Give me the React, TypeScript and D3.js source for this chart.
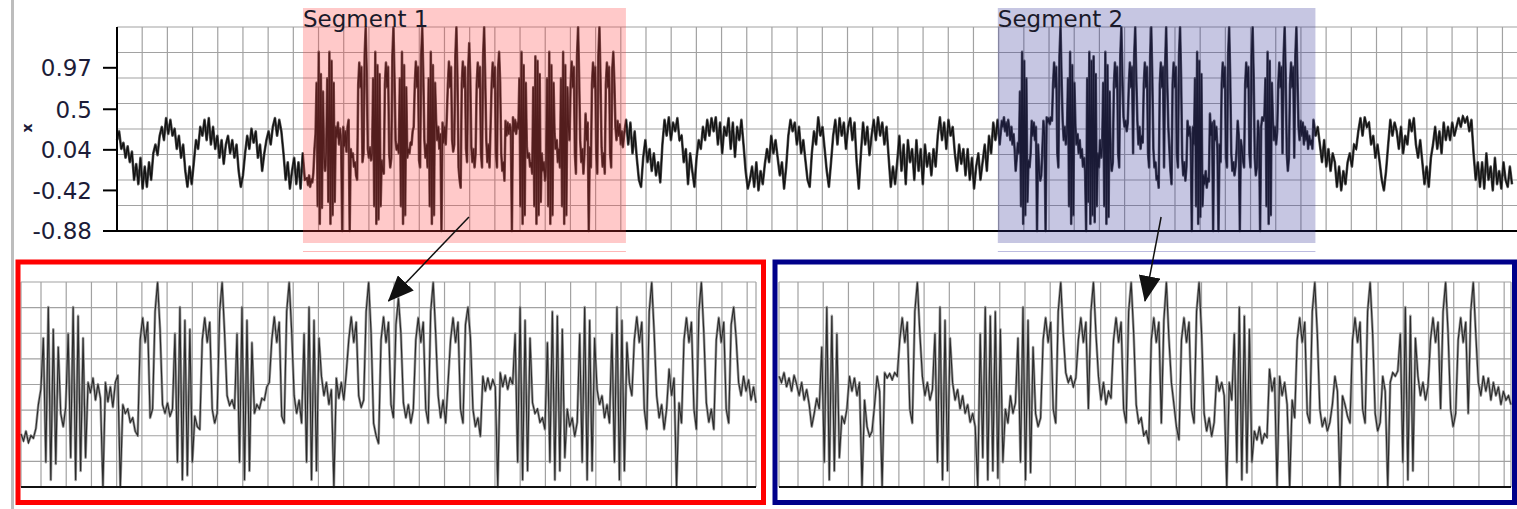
import React from 'react';
import * as d3 from 'd3';

const W = 1517;
const H = 509;

// value axis of the overview trace
const yDomain = [-0.88, 1.4325];
const yTickValues = [-0.88, -0.42, 0.04, 0.5, 0.97];
const yTickLabels = ['-0.88', '-0.42', '0.04', '0.5', '0.97'];
const segmentNames = ['Segment 1', 'Segment 2'];

// sample step (time units) of the decimated background and of the segments
const BG_STEP = 2;
const SEG_STEP = 1;

// overview trace before segment 1
const backgroundA = [
  0.15, 0.25, 0.05, 0.12, -0.05, 0.08, -0.1, 0.02, -0.3, -0.12, -0.35,
  -0.05, -0.4, -0.15, -0.38, -0.1, -0.3, 0.0, 0.1, -0.02, 0.2,
  0.3, 0.15, 0.4, 0.22, 0.38, 0.2, 0.28, 0.05, 0.2, -0.05, 0.1,
  -0.2, -0.38, -0.15, -0.35, -0.1, 0.15, 0.05, 0.3, 0.2,
  0.38, 0.15, 0.4, 0.1, 0.3, 0.05, 0.2, -0.05, 0.15, -0.12, 0.1,
  0.2, 0.0, 0.15, -0.05, 0.1, -0.2, -0.38, -0.25,
  0.0, 0.2, 0.05, 0.28, 0.12, 0.25, -0.05, 0.1, -0.2, 0.0, 0.15, 0.25, 0.1,
  0.3, 0.4, 0.2, 0.38, 0.25, 0.0, -0.3, -0.1, -0.4, -0.2,
  -0.05, -0.35, -0.1, -0.4, 0.0, -0.3,
];

// segment 1 (shown enlarged in the red panel)
const segment1 = [
  -0.28, -0.36, -0.25, -0.38, -0.3, -0.33, -0.22, 0.05, 0.22,
  0.8, -0.6, 1.15, -0.8, 0.9, -0.62, 0.7,
  -0.05, -0.2, 0.02,
  0.85, -0.55, 1.15, -0.8, 1.05, -0.7, 0.8,
  -0.55, 0.3, 0.18, 0.35, 0.1, 0.28, 0.12, -0.88,
  0.3, 0.08, 0.25, 0.02, 0.3, 0.38, -0.88,
  0.05, -0.05, 0.0, -0.15, -0.1, -0.25, -0.3,
  0.78, 1.03, 0.75, 0.98, -0.1, 0.0, 1.1, 1.43, 0.9,
  0.05, -0.05, 0.07, -0.08, 0.0,
  0.85, -0.6, 1.15, -0.8, 1.0, -0.75, 0.9, -0.6,
  -0.08, -0.2, -0.23,
  0.78, 1.03, 0.75, 0.98, 0.0, -0.16, -0.05, 1.1, 1.43, 0.85,
  0.15, 0.04, 0.1, 0.0,
  0.85, -0.6, 1.15, -0.8, 1.0, -0.7, 0.75,
  -0.05, 0.05, 0.0, 0.12, 0.1, 0.25, 0.3,
  0.78, 1.04, 0.75, 0.98, -0.08, -0.16, 1.1, 1.43, 0.88,
  0.15, -0.05, 0.1, -0.16,
  0.85, -0.6, 1.15, -0.8, 1.0, -0.7, 0.8,
  0.37, 0.15, 0.3, 0.05, 0.22, -0.88,
  0.35, 0.12, 0.3, 0.1, 0.41,
  0.78, 1.04, 0.75, 0.98, 0.15, 0.02, 0.1, 1.1, 1.43, 0.85,
  -0.16, -0.3, -0.39,
  0.78, 1.04, 0.75, 0.98, 0.05, -0.1, 0.95, 1.25, 0.85,
  0.07, -0.1, 0.05, -0.16, 0.0,
  0.78, 1.03, 0.75, 0.98, 0.0, -0.16, 1.1, 1.43, 0.85,
  0.15, -0.1, 0.1, -0.16, 0.3,
  0.78, 1.03, 0.75, 0.98, 0.0, -0.16, 0.95, 1.15, 0.8,
  0.0, -0.2, -0.1, -0.31,
  0.37, 0.2, 0.35, 0.22, 0.33, 0.25, -0.88,
  0.41, 0.25, 0.38, 0.22, 0.35, 0.28,
  0.85, -0.6, 1.15, -0.8, 1.0, -0.7, 0.8,
  0.07, -0.05, 0.0, -0.15, -0.1, -0.23,
  0.75, -0.6, 1.1, -0.8, 1.05, -0.7, 0.9, -0.55,
  0.0, -0.2, -0.1, -0.31, -0.15,
  0.85, -0.6, 1.15, -0.8, 1.0, -0.7, 0.8,
  0.22, 0.05, 0.15, -0.1, 0.05, -0.16,
  0.85, -0.6, 1.15, -0.8, 1.0, -0.7, 0.75,
  0.3, 0.15,
  0.78, 1.04, 0.75, 0.98, 0.0, -0.23, 1.1, 1.43, 0.85,
  0.15, -0.1, 0.05, -0.23, 0.0, 0.45, 0.15, 0.35, -0.88, 0.07, -0.16,
  0.78, 1.03, 0.75, 0.98, 0.0, -0.23, 1.1, 1.43, 0.85,
  0.07, -0.15, 0.0, -0.23,
  0.78, 1.03, 0.75, 0.98, 0.0, -0.16, 0.95, 1.15, 0.8,
  0.3, 0.15, 0.37, 0.2, 0.33, 0.1, 0.25, 0.07,
];

// overview trace between the two segments
const backgroundB = [
  0.2, 0.38, 0.1, 0.35, 0.0, 0.25, -0.05, -0.3, -0.38,
  -0.05, 0.15, -0.1, 0.05, -0.2, 0.0, -0.25, -0.1, -0.33,
  0.1, 0.38, 0.2, 0.41, 0.15, 0.35, 0.25, 0.4, 0.15,
  0.2, -0.1, 0.05, -0.35, 0.0, -0.2, -0.38,
  -0.05, 0.15, 0.05, 0.3, 0.15, 0.38, 0.2, 0.4, 0.25,
  0.41, 0.1, 0.35, 0.0, 0.3, 0.2, 0.4, 0.05, 0.35, -0.04, 0.3, 0.15, 0.38, 0.1,
  -0.2, -0.4, -0.3, -0.15, -0.38, -0.1, -0.42, -0.2, -0.35, -0.12,
  0.05, -0.1, 0.2, 0.0, 0.15, -0.05, -0.25, -0.1, -0.4, -0.15,
  0.2, 0.38, 0.25, 0.35, 0.1, 0.3, 0.0, 0.15, -0.08, -0.3, -0.38,
  0.0, 0.25, 0.1, 0.41, 0.2, 0.3, 0.05, -0.2, -0.38, -0.1,
  0.2, 0.38, 0.1, 0.4, 0.2, 0.35, 0.05, 0.3, 0.4, 0.15, 0.35, -0.1, -0.4,
  0.0, 0.35, 0.1, 0.3, -0.02, 0.2, 0.38, 0.15, 0.41, 0.2, 0.35, 0.1, 0.3,
  -0.05, -0.38, -0.15, -0.35, -0.1,
  0.2, -0.2, 0.1, -0.35, 0.15, -0.1, 0.05, -0.3,
  0.15, -0.2, 0.05, -0.35, 0.1, -0.15, 0.0, -0.25, 0.05, -0.15,
  0.2, 0.41, 0.15, 0.35, 0.05, 0.38, 0.2, 0.3,
  0.0, -0.2, 0.1, -0.12, 0.05, -0.25, 0.05, -0.3, -0.05, -0.4, -0.15, 0.0, -0.3,
  -0.1, 0.1, -0.2, 0.2, 0.0, 0.35, 0.15, 0.38, 0.1,
];

// segment 2 (shown enlarged in the blue panel)
const segment2 = [
  0.37, 0.3, 0.41, 0.25, 0.35, 0.2, 0.38, 0.28, 0.15, 0.3, 0.1, 0.22, 0.05, -0.2, -0.05, 0.12, 0.0,
  0.7, -0.6, 1.15, -0.8, 1.05, -0.7, 0.85, -0.55,
  -0.08, -0.16, 0.0, 0.37, 0.2, 0.35, 0.15, 0.3, -0.88,
  0.1, -0.2, -0.31, -0.25, 0.05, 0.37, 0.2, -0.88,
  0.41, 0.35, 0.4, 0.33, 0.41, 0.37,
  0.78, 1.03, 0.75, 0.98, 0.0, -0.16, 1.1, 1.43, 0.85,
  0.37, 0.15, 0.3, 0.1, 0.22,
  0.85, -0.6, 1.15, -0.8, 1.0, -0.7, 0.8,
  0.3, 0.1, 0.22, 0.0, 0.15, -0.05, 0.05, -0.15, -0.05, -0.2, -0.88,
  0.85, -0.55, 1.15, -0.8, 1.05, -0.7, 1.1, -0.78, 0.9, -0.6,
  0.0, -0.16, 0.15, -0.05, 0.07,
  0.8, -0.6, 1.15, -0.8, 1.0, -0.72, 0.7,
  -0.05, -0.2, -0.1,
  0.78, 1.03, 0.75, 0.98, 0.0, -0.16, 1.1, 1.43, 0.85,
  0.41, 0.3, 0.37, 0.25, 0.35,
  0.78, 1.03, 0.75, 0.98, 0.0, 1.1, 1.43, 0.85,
  0.37, 0.1, 0.3, 0.05, 0.2, 0.12,
  0.78, 1.03, 0.75, 0.98, 0.0, -0.16, 1.1, 1.43, 0.85,
  0.05, -0.16, -0.1, -0.3, -0.25, -0.39,
  0.78, 1.03, 0.75, 0.98, -0.16, 1.0, 1.43, 0.8,
  0.3, 0.05, -0.2, -0.35,
  0.78, 1.03, 0.75, 0.98, 0.0, -0.16, 1.1, 1.43, 0.85,
  -0.05, -0.25, -0.1, -0.31, -0.15, 0.37, 0.2, 0.3, 0.15, -0.88, 0.3, 0.1,
  0.85, -0.6, 1.15, -0.8, 1.05, -0.72, 0.9, -0.6,
  -0.25, -0.35, -0.2, -0.39, -0.28, -0.32,
  0.45, 0.2, 0.35, -0.88, 0.37, 0.15, 0.3, 0.05, -0.88, 0.1, -0.1,
  0.78, 1.03, 0.75, 0.98, -0.05, -0.16, 1.1, 1.43, 0.85,
  0.0, -0.2, -0.1, -0.25, -0.15, 0.05, 0.37, 0.2, -0.88, 0.15, 0.05, -0.08, -0.16,
  0.78, 1.03, 0.75, 0.98, 0.0, -0.16, 1.1, 1.43, 0.85,
  -0.05, -0.25, -0.15, 0.37, 0.2, -0.88, 0.3, 0.41, 0.37, 0.43,
  0.85, -0.6, 1.15, -0.8, 1.05, -0.7, 0.8,
  0.37, 0.15, 0.3, 0.1, 0.25,
  0.78, 1.03, 0.75, 0.98, 0.0, 1.1, 1.43, 0.85,
  0.0, -0.2, -0.05,
  0.78, 1.03, 0.75, 0.98, -0.05, 1.1, 1.43, 0.85,
  0.3, 0.15, 0.37, 0.2, 0.35, 0.1, 0.3, 0.15, 0.25, 0.05, 0.2, 0.1, 0.15, 0.05,
];

// overview trace after segment 2
const backgroundC = [
  0.38, 0.2, 0.3, 0.1, -0.1, 0.15, -0.15, 0.05, -0.2, 0.0,
  -0.1, -0.38, -0.15, -0.42, -0.2, -0.35, -0.1, 0.0, -0.15, 0.1, 0.05,
  0.25, 0.4, 0.2, 0.41, 0.3, 0.35, 0.1, 0.2, -0.05, 0.1, -0.1,
  -0.3, -0.42, -0.2, 0.1, 0.38, 0.2, 0.35, 0.25, 0.05, 0.3, 0.0, 0.2, 0.1,
  0.38, 0.25, 0.4, 0.1, -0.05, 0.15, -0.1, -0.35, -0.15, -0.38, -0.05,
  0.1, 0.3, 0.05, 0.25, 0.0, 0.35, 0.15, 0.3, 0.15, 0.35, 0.2, 0.3,
  0.4, 0.3, 0.42, 0.35, 0.41, 0.25, 0.38, 0.0, -0.3, -0.1, -0.38,
  -0.1, -0.4, 0.0, -0.3, -0.15, -0.42, -0.05, -0.35, -0.2, -0.4, -0.1, -0.3, -0.38, -0.15, -0.35,
];

type Pt = { t: number; v: number };

const pieces = [
  { values: backgroundA, step: BG_STEP, seg: -1 },
  { values: segment1, step: SEG_STEP, seg: 0 },
  { values: backgroundB, step: BG_STEP, seg: -1 },
  { values: segment2, step: SEG_STEP, seg: 1 },
  { values: backgroundC, step: BG_STEP, seg: -1 },
];

const overview: Pt[] = [];
const segSpans: number[][] = [];
let tCursor = 0;
pieces.forEach(p => {
  const start = tCursor;
  p.values.forEach((v, i) => overview.push({ t: start + i * p.step, v }));
  tCursor = start + p.values.length * p.step;
  if (p.seg >= 0) segSpans[p.seg] = [start, start + (p.values.length - 1) * p.step];
});

const gridColor = '#a2a2a2';
const labelFont = "'DejaVu Sans', Verdana, sans-serif";

const panels = [
  { data: segment1, left: 21, right: 756, gridOffset: 20, color: '#ff0000', box: [18, 262, 745.5, 240.5], tint: 'rgb(255,60,60)', under: '#ffb8b8' },
  { data: segment2, left: 779, right: 1511, gridOffset: 19, color: '#00008a', box: [775, 262, 739.5, 240.5], tint: 'rgb(50,50,150)', under: '#bcbce0' },
];

export default function App() {
  // overview chart
  const xTop = d3.scaleLinear().domain([0, overview[overview.length - 1].t]).range([117, 1512]);
  const yTop = d3.scaleLinear().domain(yDomain).range([231, 27]);
  const topLine = d3.line<Pt>().x(d => xTop(d.t)).y(d => yTop(d.v));
  const hGrid = d3.range(9).map(k => yDomain[0] + (k * (yDomain[1] - yDomain[0])) / 8);
  const vGridTop = d3.range(117, W, 25.19);

  // zoomed panels
  const yBot = d3.scaleLinear().domain(yDomain).range([487, 282]);

  return (
    <svg width={W} height={H} style={{ position: 'absolute', left: 0, top: 0, background: '#fff' }}>
      <defs>
        <marker id="head" markerUnits="userSpaceOnUse" markerWidth={26} markerHeight={22} refX={25} refY={11} orient="auto">
          <path d="M0,0 L26,11 L0,22 z" fill="#111" />
        </marker>
      </defs>
      <rect x={0} y={0} width={W} height={H} fill="#fff" />
      <rect x={11} y={0} width={3} height={H} fill="#bdbdbd" />

      {/* overview grid */}
      <g stroke={gridColor} strokeWidth={1.2}>
        {hGrid.map((v, i) => (
          <line key={'h' + i} x1={117} x2={W} y1={yTop(v)} y2={yTop(v)} />
        ))}
        {vGridTop.map((x, i) => (
          <line key={'v' + i} x1={x} x2={x} y1={27} y2={231} />
        ))}
      </g>

      <path d={topLine(overview) || ''} fill="none" stroke="#555" strokeWidth={2.6} strokeLinejoin="round" />
      <path d={topLine(overview) || ''} fill="none" stroke="#111" strokeWidth={1.3} />

      {/* axes */}
      <line x1={117} x2={117} y1={27} y2={232} stroke="#000" strokeWidth={2} />
      <line x1={116} x2={W} y1={231} y2={231} stroke="#000" strokeWidth={2} />
      {yTickValues.map((v, i) => (
        <g key={'t' + i}>
          <line x1={103} x2={117} y1={yTop(v)} y2={yTop(v)} stroke="#000" strokeWidth={2} />
          <text x={92} y={yTop(v)} dy="0.36em" textAnchor="end" fontFamily={labelFont} fontSize={23} fill="#1c1c38">
            {yTickLabels[i]}
          </text>
        </g>
      ))}
      <text x={0} y={0} transform="translate(32,128) rotate(-90)" textAnchor="middle" fontFamily={labelFont} fontSize={14} fontWeight="bold" fill="#1c1c38">x</text>

      {/* highlighted segments */}
      {segSpans.map((span, i) => {
        const x0 = xTop(span[0]) - 4;
        const x1 = xTop(span[1]) + 3;
        return (
          <g key={'s' + i}>
            <rect x={x0} y={8} width={x1 - x0} height={235} fill={panels[i].tint} fillOpacity={0.28} />
            <line x1={x0} x2={x1} y1={251.5} y2={251.5} stroke={panels[i].under} strokeWidth={1} />
            <text x={x0} y={27} fontFamily={labelFont} fontSize={23} fill="#1a1a2a">{segmentNames[i]}</text>
          </g>
        );
      })}

      {/* zoomed panels */}
      {panels.map((p, pi) => {
        const x = d3.scaleLinear().domain([0, p.data.length - 1]).range([p.left, p.right]);
        const line = d3.line<number>().x((_, i) => x(i)).y(d => yBot(d));
        const vGrid = [p.left, ...d3.range(p.left + p.gridOffset, p.right, 25.22), p.right];
        const span = segSpans[pi];
        const x0 = xTop(span[0]);
        const x1 = xTop(span[1]);
        return (
          <g key={'p' + pi}>
            <g stroke={gridColor} strokeWidth={1.2}>
              {hGrid.map((v, i) => (
                <line key={'h' + i} x1={p.left} x2={p.right} y1={yBot(v)} y2={yBot(v)} />
              ))}
              {vGrid.map((gx, i) => (
                <line key={'v' + i} x1={gx} x2={gx} y1={282} y2={487} />
              ))}
            </g>
            <path d={line(p.data) || ''} fill="none" stroke="#9a9a9a" strokeWidth={2.6} strokeLinejoin="round" />
            <path d={line(p.data) || ''} fill="none" stroke="#2a2a2a" strokeWidth={1.1} />
            <line x1={p.left} x2={p.right} y1={487} y2={487} stroke="#111" strokeWidth={2} />
            <rect x={p.box[0]} y={p.box[1]} width={p.box[2]} height={p.box[3]} fill="none" stroke={p.color} strokeWidth={5} />
            <line
              x1={(x0 + x1) / 2 + 4}
              y1={217}
              x2={(p.left + p.right) / 2}
              y2={301}
              stroke="#111"
              strokeWidth={1.5}
              markerEnd="url(#head)"
            />
          </g>
        );
      })}
    </svg>
  );
}
